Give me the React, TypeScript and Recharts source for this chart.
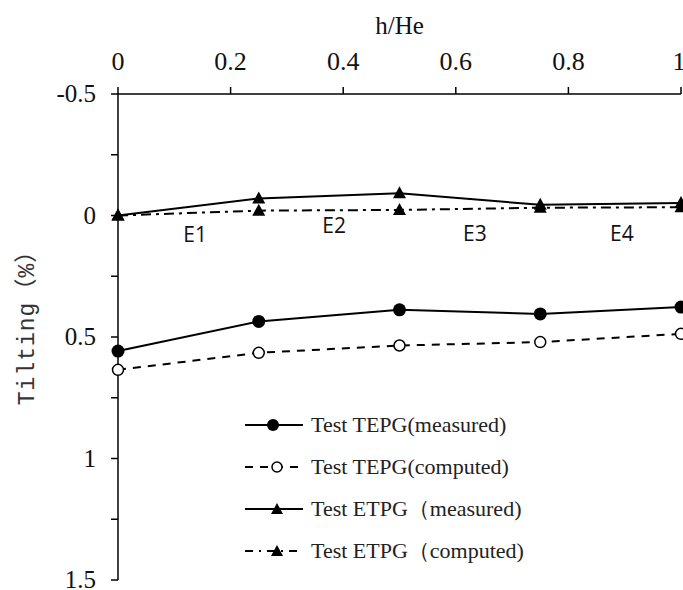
import { LineChart, Line, XAxis, YAxis, Legend, ReferenceDot } from 'recharts';

const heights = [0, 0.25, 0.5, 0.75, 1];
const tepgMeasured = [0.558, 0.436, 0.388, 0.405, 0.377];
const tepgComputed = [0.635, 0.565, 0.535, 0.521, 0.487];
const etpgMeasured = [0, -0.07, -0.092, -0.044, -0.051];
const etpgComputed = [0, -0.02, -0.023, -0.032, -0.034];

const xTicks = [0, 0.2, 0.4, 0.6, 0.8, 1];
const yTicks = [-0.5, -0.25, 0, 0.25, 0.5, 0.75, 1, 1.25, 1.5];

const segNames = ['E1', 'E2', 'E3', 'E4'];
const segX = [0.137, 0.384, 0.634, 0.895];
const segY = [0.078, 0.041, 0.074, 0.074];

const legendNames = [
  'Test TEPG(measured)',
  'Test TEPG(computed)',
  'Test ETPG（measured)',
  'Test ETPG（computed)',
];

const data = heights.map((h, i) => ({
  h,
  tm: tepgMeasured[i],
  tc: tepgComputed[i],
  em: etpgMeasured[i],
  ec: etpgComputed[i],
}));

const serif = '"Liberation Serif", "Times New Roman", serif';

function FilledDot(props: any) {
  const { cx, cy, index } = props;
  return <circle key={'f' + index} cx={cx} cy={cy} r={6.5} fill="#000" />;
}

function OpenDot(props: any) {
  const { cx, cy, index } = props;
  return <circle key={'o' + index} cx={cx} cy={cy} r={5.5} fill="#fff" stroke="#000" strokeWidth={1.5} />;
}

function TriDot(props: any) {
  const { cx, cy, index } = props;
  return (
    <polygon
      key={'t' + index}
      points={`${cx},${cy - 7} ${cx - 6.5},${cy + 5} ${cx + 6.5},${cy + 5}`}
      fill="#000"
    />
  );
}

function XTick(props: any) {
  const { x, y, payload } = props;
  return (
    <text x={x} y={y} textAnchor="middle" fill="#111" style={{ fontFamily: serif, fontSize: 26 }}>
      {payload.value}
    </text>
  );
}

function YTick(props: any) {
  const { x, y, payload } = props;
  const v = payload.value;
  if (Math.abs(v * 2 - Math.round(v * 2)) > 1e-9) return <g />;
  return (
    <text x={x} y={y} dy={8} textAnchor="end" fill="#111" style={{ fontFamily: serif, fontSize: 25 }}>
      {String(v)}
    </text>
  );
}

function LegendSwatch({ kind }: { kind: number }) {
  return (
    <svg width={60} height={16} style={{ marginRight: 6 }}>
      {kind === 0 && <line x1={0} y1={8} x2={58} y2={8} stroke="#000" strokeWidth={2} />}
      {kind === 0 && <circle cx={28} cy={8} r={6} fill="#000" />}
      {kind === 1 && <line x1={0} y1={8} x2={58} y2={8} stroke="#000" strokeWidth={2} strokeDasharray="8 7" />}
      {kind === 1 && <circle cx={32} cy={8} r={5} fill="#fff" stroke="#000" strokeWidth={1.5} />}
      {kind === 2 && <line x1={0} y1={8} x2={58} y2={8} stroke="#000" strokeWidth={2} />}
      {kind === 2 && <polygon points="32,2 26,13 38,13" fill="#000" />}
      {kind === 3 && <line x1={0} y1={8} x2={58} y2={8} stroke="#000" strokeWidth={2} strokeDasharray="8 6 2 6" />}
      {kind === 3 && <polygon points="32,2 26,13 38,13" fill="#000" />}
    </svg>
  );
}

function LegendBox() {
  return (
    <div style={{ fontFamily: serif, fontSize: 22, color: '#222' }}>
      {legendNames.map((n, i) => (
        <div key={n} style={{ display: 'flex', alignItems: 'center', height: 42 }}>
          <LegendSwatch kind={i} />
          <span>{n}</span>
        </div>
      ))}
    </div>
  );
}

export default function App() {
  return (
    <div style={{ position: 'absolute', left: 0, top: 0, background: '#fff' }}>
      <LineChart
        width={683}
        height={590}
        data={data}
        margin={{ top: 0, right: 2, left: 0, bottom: 10 }}
      >
        <XAxis
          xAxisId={0}
          dataKey="h"
          type="number"
          orientation="top"
          domain={[0, 1]}
          ticks={xTicks}
          height={94}
          stroke="#000"
          strokeWidth={1.5}
          tickSize={7}
          tickMargin={17}
          tick={<XTick />}
          label={{
            content: ({ viewBox }: any) => (
              <text
                x={viewBox.x + viewBox.width / 2}
                y={34}
                textAnchor="middle"
                fill="#111"
                style={{ fontFamily: serif, fontSize: 25 }}
              >
                h/He
              </text>
            ),
          }}
        />
        <YAxis
          yAxisId={0}
          type="number"
          domain={[-0.5, 1.5]}
          reversed
          ticks={yTicks}
          width={118}
          stroke="#000"
          strokeWidth={1.5}
          tickSize={7}
          tickMargin={15}
          interval={0}
          tick={<YTick />}
          label={{
            content: () => {
              const x = 28;
              const y = 322;
              return (
                <text
                  x={x}
                  y={y}
                  transform={`rotate(-90 ${x} ${y})`}
                  textAnchor="middle"
                  dominantBaseline="central"
                  fill="#333"
                  style={{
                    fontFamily: '"Liberation Mono", "Noto Sans CJK SC", monospace',
                    fontSize: 23,
                    letterSpacing: 1,
                  }}
                >
                  Tilting（%）
                </text>
              );
            },
          }}
        />
        <Line
          dataKey="tm"
          stroke="#000"
          strokeWidth={2}
          dot={FilledDot}
          activeDot={false}
          isAnimationActive={false}
        />
        <Line
          dataKey="tc"
          stroke="#000"
          strokeWidth={2}
          strokeDasharray="8 7"
          dot={OpenDot}
          activeDot={false}
          isAnimationActive={false}
        />
        <Line
          dataKey="em"
          stroke="#000"
          strokeWidth={2}
          dot={TriDot}
          activeDot={false}
          isAnimationActive={false}
        />
        <Line
          dataKey="ec"
          stroke="#000"
          strokeWidth={2}
          strokeDasharray="10 5 3 5"
          dot={TriDot}
          activeDot={false}
          isAnimationActive={false}
        />
        {segNames.map((n, i) => (
          <ReferenceDot
            key={n}
            x={segX[i]}
            y={segY[i]}
            r={0}
            fill="none"
            stroke="none"
            label={{
              value: n,
              position: 'center',
              fill: '#111',
              fontFamily: '"Open Sans", "Liberation Sans", sans-serif',
              fontSize: 21,
            }}
          />
        ))}
        <Legend
          content={<LegendBox />}
          layout="vertical"
          align="center"
          verticalAlign="middle"
          wrapperStyle={{ position: 'absolute', left: 245, top: 404, width: 320 }}
        />
      </LineChart>
    </div>
  );
}
